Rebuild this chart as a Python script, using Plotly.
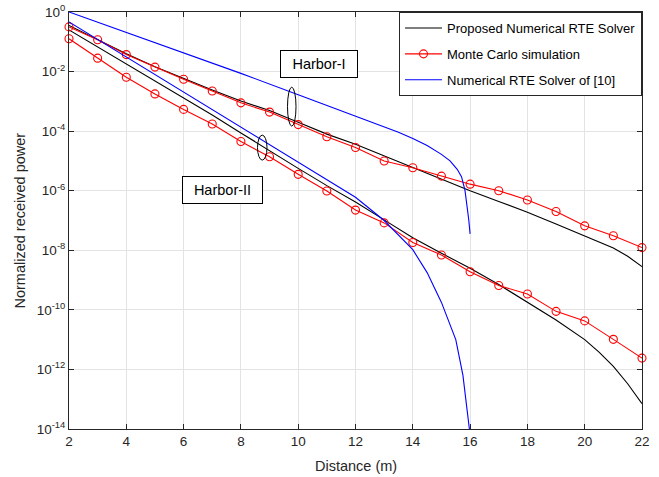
import plotly.graph_objects as go

# ---------------- data ----------------
mc_distance = [2, 3, 4, 5, 6, 7, 8, 9, 10, 11, 12, 13, 14, 15, 16, 17, 18, 19, 20, 21, 22]
# log10 of normalized received power
mc_harbor1_log10 = [-0.50, -0.93, -1.43, -1.85, -2.26, -2.65, -3.05, -3.36, -3.78, -4.19, -4.55,
                    -5.00, -5.23, -5.51, -5.78, -6.00, -6.31, -6.70, -7.18, -7.51, -7.91]
mc_harbor2_log10 = [-0.90, -1.55, -2.19, -2.75, -3.27, -3.76, -4.35, -4.86, -5.45, -6.01, -6.65,
                    -7.08, -7.74, -8.16, -8.72, -9.18, -9.47, -10.05, -10.37, -10.99, -11.62]

proposed_distance = [2, 3, 4, 5, 6, 7, 8, 9, 10, 11, 12, 13, 14, 15, 16, 17, 18, 19, 20, 20.5, 21, 21.5, 22]
proposed_harbor1_log10 = [-0.45, -0.92, -1.40, -1.84, -2.24, -2.62, -2.99, -3.31, -3.70, -4.10, -4.44,
                          -4.83, -5.20, -5.60, -6.00, -6.36, -6.72, -7.12, -7.52, -7.70, -7.92, -8.20, -8.55]
proposed_harbor2_log10 = [-0.60, -1.17, -1.74, -2.31, -2.88, -3.46, -4.06, -4.66, -5.25, -5.83, -6.38,
                          -6.98, -7.58, -8.10, -8.60, -9.15, -9.74, -10.34, -11.00, -11.42, -11.90, -12.48, -13.15]

ref10_h1_distance = [2, 4, 6, 8, 10, 12, 13, 13.5, 14, 14.5, 15, 15.3, 15.55, 15.7, 15.82, 15.9, 15.95, 16.0]
ref10_h1_log10 = [0.0, -0.68, -1.36, -2.06, -2.78, -3.50, -3.86, -4.04, -4.25, -4.48, -4.78, -5.00,
                  -5.28, -5.53, -5.98, -6.50, -6.95, -7.45]
ref10_h2_distance = [2, 4, 6, 8, 10, 11, 12, 13, 14, 14.5, 15, 15.5, 15.75, 15.9, 16.0]
ref10_h2_log10 = [-0.335, -1.51, -2.69, -3.87, -5.04, -5.62, -6.22, -7.00, -7.98, -8.75, -9.75,
                  -11.0, -12.2, -13.4, -14.2]

x_ticks = [2, 4, 6, 8, 10, 12, 14, 16, 18, 20, 22]
y_tick_exponents = [0, -2, -4, -6, -8, -10, -12, -14]

legend_names = ["Proposed Numerical RTE Solver", "Monte Carlo simulation", "Numerical RTE Solver of [10]"]


def to_power(exps):
    return [10 ** e for e in exps]


FONT = "Liberation Sans, Arial, sans-serif"
BLACK = "#000000"
RED = "#ff0000"
BLUE = "#0000ff"
AXC = "#262626"
LW = 1.1

fig = go.Figure()

# Proposed numerical RTE solver (black)
fig.add_trace(go.Scatter(x=proposed_distance, y=to_power(proposed_harbor1_log10), mode="lines",
                         line=dict(color=BLACK, width=LW), name=legend_names[0],
                         legendgroup="a", showlegend=True))
fig.add_trace(go.Scatter(x=proposed_distance, y=to_power(proposed_harbor2_log10), mode="lines",
                         line=dict(color=BLACK, width=LW), name=legend_names[0],
                         legendgroup="a", showlegend=False))

# Monte Carlo (red, open circles)
for i, ys in enumerate([mc_harbor1_log10, mc_harbor2_log10]):
    fig.add_trace(go.Scatter(x=mc_distance, y=to_power(ys), mode="lines+markers",
                             line=dict(color=RED, width=LW),
                             marker=dict(symbol="circle-open", size=8, color=RED, line=dict(width=1.1)),
                             name=legend_names[1], legendgroup="b", showlegend=(i == 0),
                             cliponaxis=False))

# Numerical RTE solver of [10] (blue)
fig.add_trace(go.Scatter(x=ref10_h1_distance, y=to_power(ref10_h1_log10), mode="lines",
                         line=dict(color=BLUE, width=LW), name=legend_names[2],
                         legendgroup="c", showlegend=True))
fig.add_trace(go.Scatter(x=ref10_h2_distance, y=to_power(ref10_h2_log10), mode="lines",
                         line=dict(color=BLUE, width=LW), name=legend_names[2],
                         legendgroup="c", showlegend=False))

axis_common = dict(showline=True, linecolor=AXC, linewidth=1, mirror="ticks",
                   ticks="inside", ticklen=5, tickcolor=AXC, tickwidth=1,
                   showgrid=True, gridcolor="#e3e3e3", gridwidth=1, zeroline=False,
                   automargin=False,
                   tickfont=dict(family=FONT, size=13.5, color=AXC))

fig.update_xaxes(range=[2, 22], tickvals=x_ticks, **axis_common)
fig.update_yaxes(type="log", range=[-14, 0],
                 tickvals=[10 ** e for e in y_tick_exponents],
                 ticktext=["10<sup>%d</sup>" % e for e in y_tick_exponents],
                 **axis_common)


def px2paper_x(px):
    return (px - 69) / 573.0


def px2paper_y(py):
    return (429.3 - py) / 417.6


shapes = [
    dict(type="circle", xref="paper", yref="paper",
         x0=px2paper_x(287.5), x1=px2paper_x(296.0), y0=px2paper_y(126.0), y1=px2paper_y(87.0),
         line=dict(color=BLACK, width=1)),
    dict(type="circle", xref="paper", yref="paper",
         x0=px2paper_x(257.5), x1=px2paper_x(267.0), y0=px2paper_y(160.0), y1=px2paper_y(135.0),
         line=dict(color=BLACK, width=1)),
]

annotations = [
    dict(text="Harbor-I", xref="paper", yref="paper", x=px2paper_x(319), y=px2paper_y(64),
         showarrow=False, font=dict(family=FONT, size=14.5, color=BLACK),
         bordercolor=BLACK, borderwidth=1, bgcolor="white", width=76, height=26, borderpad=0,
         xanchor="center", yanchor="middle"),
    dict(text="Harbor-II", xref="paper", yref="paper", x=px2paper_x(222.5), y=px2paper_y(190),
         showarrow=False, font=dict(family=FONT, size=14.5, color=BLACK),
         bordercolor=BLACK, borderwidth=1, bgcolor="white", width=79, height=26, borderpad=0,
         xanchor="center", yanchor="middle"),
    # axis titles
    dict(text="Distance (m)", xref="paper", yref="paper", x=px2paper_x(355.5), y=px2paper_y(466),
         showarrow=False, font=dict(family=FONT, size=14.5, color=AXC),
         xanchor="center", yanchor="middle"),
    dict(text="Normalized received power", xref="paper", yref="paper", x=px2paper_x(19),
         y=px2paper_y(220.5), textangle=-90, showarrow=False,
         font=dict(family=FONT, size=14.5, color=AXC), xanchor="center", yanchor="middle"),
]

fig.update_layout(
    width=659, height=477,
    margin=dict(l=69, r=17, t=12, b=48, autoexpand=False),
    paper_bgcolor="white", plot_bgcolor="white",
    font=dict(family=FONT, color=BLACK),
    shapes=shapes, annotations=annotations,
    legend=dict(x=1, y=1, xanchor="right", yanchor="top",
                bgcolor="white", bordercolor=AXC, borderwidth=1,
                font=dict(family=FONT, size=13, color=BLACK),
                itemwidth=37,
                traceorder="grouped", tracegroupgap=6),
)

fig.write_html("out.html", config={"displayModeBar": False},
               post_script="document.body.style.margin='0';document.body.style.padding='0';")
